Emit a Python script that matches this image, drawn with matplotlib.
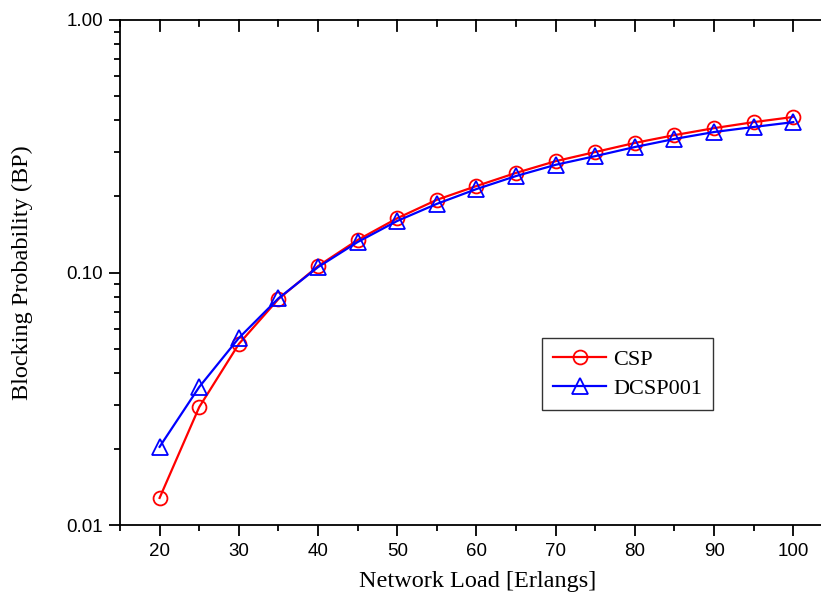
import matplotlib
matplotlib.use("Agg")
import matplotlib.pyplot as plt
from matplotlib.ticker import FixedLocator, FuncFormatter, LogLocator, NullFormatter

load = [20, 25, 30, 35, 40, 45, 50, 55, 60, 65, 70, 75, 80, 85, 90, 95, 100]
csp = [0.0128, 0.0293, 0.0521, 0.0785, 0.106, 0.1345, 0.164, 0.194, 0.220,
       0.248, 0.276, 0.300, 0.326, 0.350, 0.373, 0.394, 0.413]
dcsp001 = [0.0204, 0.0352, 0.0550, 0.079, 0.105, 0.132, 0.160, 0.187, 0.214,
           0.241, 0.267, 0.289, 0.314, 0.338, 0.360, 0.377, 0.394]
xticks = [20, 30, 40, 50, 60, 70, 80, 90, 100]
xminor = [15, 25, 35, 45, 55, 65, 75, 85, 95]
yticks = [0.01, 0.1, 1.0]
ytick_labels = ["0.01", "0.10", "1.00"]

fig = plt.figure(figsize=(8.21, 5.97), dpi=100)
ax = fig.add_axes([120/821, 1-525/597, 1-120/821, (525-20)/597])

ax.plot(load, csp, color="#ff0000", lw=1.6, marker="o", ms=10, mfc="none",
        mec="#ff0000", mew=1.3, label="CSP", zorder=3)
ax.plot(load, dcsp001, color="#0000ff", lw=1.6, marker="^", ms=11, mfc="none",
        mec="#0000ff", mew=1.3, label="DCSP001", zorder=4)

ax.set_yscale("log")
ax.set_ylim(0.01, 1.0)
ax.set_xlim(15, 103.5)

ax.xaxis.set_major_locator(FixedLocator(xticks))
ax.xaxis.set_minor_locator(FixedLocator(xminor))
ax.yaxis.set_major_locator(FixedLocator(yticks))
ax.yaxis.set_major_formatter(FuncFormatter(
    lambda v, p: ytick_labels[yticks.index(min(yticks, key=lambda t: abs(t - v)))]))
ax.yaxis.set_minor_locator(LogLocator(base=10, subs=range(2, 10)))
ax.yaxis.set_minor_formatter(NullFormatter())

for s in ax.spines.values():
    s.set_linewidth(1.3)
ax.spines["right"].set_visible(False)

ax.tick_params(axis="x", which="both", direction="out", bottom=True, top=False,
               labelsize=13.5, width=1.3, pad=5)
ax.tick_params(axis="x", which="major", length=8)
ax.tick_params(axis="x", which="minor", length=4.5)
ax.tick_params(axis="y", which="both", direction="out", left=True, right=False,
               labelsize=13.5, width=1.3, pad=4)
ax.tick_params(axis="y", which="major", length=8)
ax.tick_params(axis="y", which="minor", length=4.5)

# top-axis ticks pointing inward
for xv in xticks:
    ax.plot([xv, xv], [1.0, 10**(-11/252.5)], color="black", lw=1.3, clip_on=False, zorder=5)
for xv in xminor:
    ax.plot([xv, xv], [1.0, 10**(-6/252.5)], color="black", lw=1.3, clip_on=False, zorder=5)

for lab in ax.get_xticklabels() + ax.get_yticklabels():
    lab.set_fontfamily("Liberation Sans")

ax.set_xlabel("Network Load [Erlangs]", fontfamily="Liberation Serif", fontsize=17.5)
ax.set_ylabel("Blocking Probability (BP)", fontfamily="Liberation Serif", fontsize=17.5)
ax.xaxis.set_label_coords(0.5 + 7/701, -0.092)
ax.yaxis.set_label_coords(-0.124, 0.5)

leg = ax.legend(loc="upper left", bbox_to_anchor=((542-120)/701, 1-(338-20)/505),
                prop={"family": "Liberation Serif", "size": 16}, frameon=True,
                fancybox=False, edgecolor="black", borderpad=0.5, handlelength=2.4,
                labelspacing=0.4, handletextpad=0.3, borderaxespad=0)
leg.get_frame().set_linewidth(1.0)

fig.savefig("out.png", dpi=100)
